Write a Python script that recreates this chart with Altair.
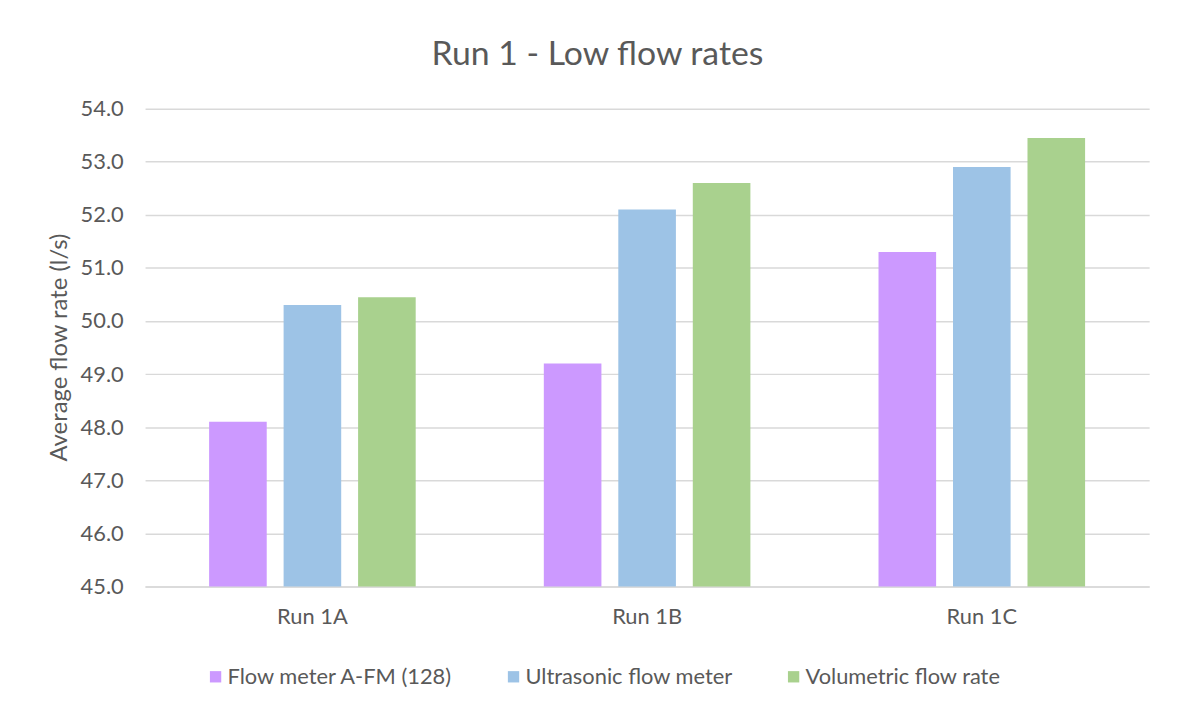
import altair as alt
import pandas as pd

runs = ["Run 1A", "Run 1B", "Run 1C"]
series = ["Flow meter A-FM (128)", "Ultrasonic flow meter", "Volumetric flow rate"]
flow_meter = [48.1, 49.2, 51.3]
ultrasonic = [50.3, 52.1, 52.9]
volumetric = [50.45, 52.6, 53.45]
colors = ["#CC99FF", "#9DC3E6", "#A9D18E"]

rows = []
for s, vals in zip(series, [flow_meter, ultrasonic, volumetric]):
    for r, v in zip(runs, vals):
        rows.append({"run": r, "series": s, "value": v})
df = pd.DataFrame(rows)

FONT = "Lato"
TXT = "#595959"

chart = alt.Chart(df).mark_bar().encode(
    x=alt.X("run:N", sort=runs,
            scale=alt.Scale(paddingInner=0, paddingOuter=0),
            axis=alt.Axis(title=None, labelAngle=0, ticks=False, labelPadding=20,
                          labelFontSize=22, labelColor=TXT, labelFont=FONT,
                          domainColor="#D9D9D9", domainWidth=1.5, grid=False)),
    xOffset=alt.XOffset("series:N", sort=series,
                        scale=alt.Scale(paddingInner=0.2267, paddingOuter=0.86)),
    y=alt.Y("value:Q",
            scale=alt.Scale(domain=[45, 54], zero=False, nice=False, clamp=True),
            axis=alt.Axis(title="Average flow rate (l/s)", values=[45, 46, 47, 48, 49, 50, 51, 52, 53, 54],
                          format=".1f", ticks=False, domain=False, labelPadding=22,
                          labelFontSize=22, labelColor=TXT, labelFont=FONT,
                          gridColor="#D9D9D9", gridWidth=1.5,
                          titleFont=FONT, titleFontSize=24, titleColor=TXT, titleFontWeight="normal",
                          titleX=-86, titleY=240, titleAngle=-90, titleBaseline="middle")),
    color=alt.Color("series:N", sort=series,
                    scale=alt.Scale(domain=series, range=colors),
                    legend=alt.Legend(title=None, orient="none", direction="horizontal",
                                      columns=3, legendX=60, legendY=561,
                                      symbolType="square", symbolSize=130, symbolStrokeWidth=0,
                                      labelFont=FONT, labelFontSize=22, labelColor=TXT,
                                      labelOffset=1, columnPadding=50, labelLimit=400)),
).properties(
    width=1011,
    height=481,
    title=alt.TitleParams("Run 1 - Low flow rates", font=FONT, fontSize=34, color=TXT,
                          fontWeight="normal", anchor="middle", offset=26, dx=-50),
    autosize=alt.AutoSizeParams(type="none"),
    padding={"left": 138, "top": 99, "right": 22, "bottom": 116},
    background="white",
).configure_view(stroke=None)

chart.save("out.html", embed_options={"renderer": "svg", "actions": False})
